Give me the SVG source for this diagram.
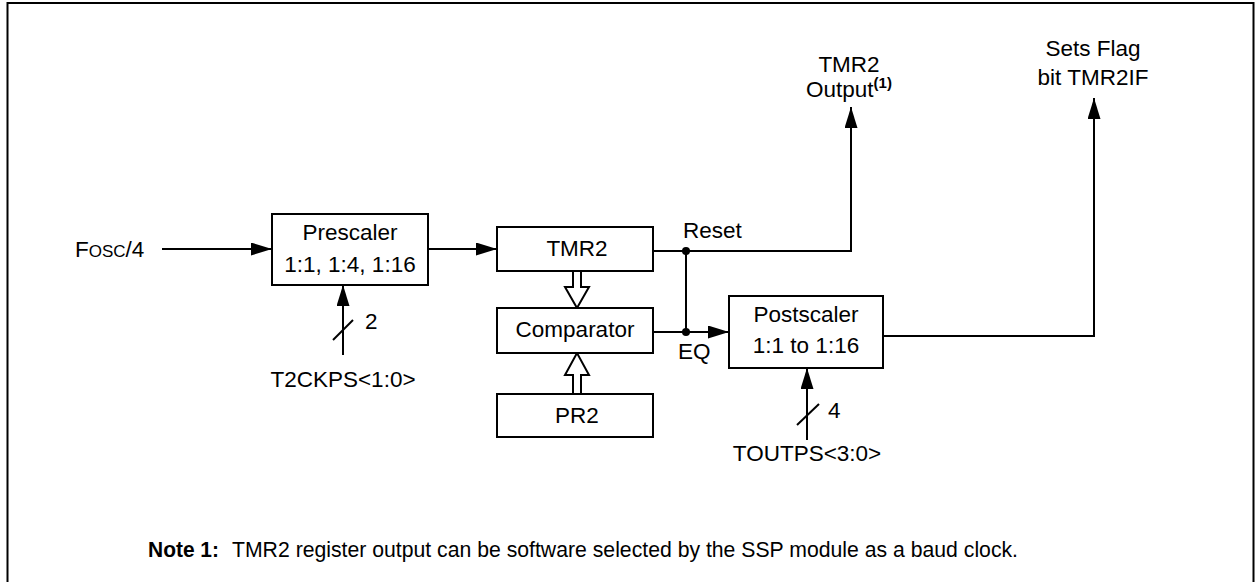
<svg xmlns="http://www.w3.org/2000/svg" width="1255" height="582" viewBox="0 0 1255 582">
<style>
  text { font-family: "Liberation Sans", Arial, sans-serif; font-size: 22.5px; fill: #000; }
  .c { text-anchor: middle; }
  .box { fill: #fff; stroke: #000; stroke-width: 2; }
  .ln { fill: none; stroke: #000; stroke-width: 2; }
  .hollow { fill: #fff; stroke: #000; stroke-width: 2; }
</style>
<defs>
  <marker id="ah" markerWidth="21" markerHeight="13" refX="21" refY="6.5" orient="auto" markerUnits="userSpaceOnUse">
    <path d="M0,0 L21,6.5 L0,13 Z" fill="#000"/>
  </marker>
</defs>
<rect x="7.5" y="3" width="1246" height="600" fill="none" stroke="#000" stroke-width="2"/>

<g id="connectors">
  <line class="ln" x1="162" y1="249" x2="272" y2="249" marker-end="url(#ah)"/>
  <line class="ln" x1="428" y1="249" x2="497" y2="249" marker-end="url(#ah)"/>
  <line class="ln" x1="343" y1="355" x2="343" y2="285" marker-end="url(#ah)"/>
  <line class="ln" x1="333" y1="340" x2="353" y2="320"/>
  <polyline class="ln" points="653,251 851,251 851,107" marker-end="url(#ah)"/>
  <line class="ln" x1="686" y1="251" x2="686" y2="332"/>
  <line class="ln" x1="653" y1="332" x2="729" y2="332" marker-end="url(#ah)"/>
  <circle cx="686" cy="251" r="4" fill="#000"/>
  <circle cx="686" cy="332" r="4" fill="#000"/>
  <polyline class="ln" points="883,336 1094,336 1094,98" marker-end="url(#ah)"/>
  <line class="ln" x1="807" y1="440" x2="807" y2="368" marker-end="url(#ah)"/>
  <line class="ln" x1="797" y1="425" x2="819" y2="404"/>
  <path class="hollow" d="M573,271 L581,271 L581,287 L589,287 L577,308 L565,287 L573,287 Z"/>
  <path class="hollow" d="M573,394 L581,394 L581,375 L589,375 L577,353 L565,375 L573,375 Z"/>
</g>

<g id="prescaler">
  <rect class="box" x="272" y="214" width="156" height="71"/>
  <text class="c" x="350" y="240">Prescaler</text>
  <text class="c" x="350" y="272">1:1, 1:4, 1:16</text>
</g>
<g id="tmr2">
  <rect class="box" x="497" y="227" width="156" height="44"/>
  <text class="c" x="577" y="256">TMR2</text>
</g>
<g id="comparator">
  <rect class="box" x="497" y="308" width="156" height="45"/>
  <text class="c" x="575" y="337">Comparator</text>
</g>
<g id="pr2">
  <rect class="box" x="497" y="394" width="156" height="43"/>
  <text class="c" x="577" y="423">PR2</text>
</g>
<g id="postscaler">
  <rect class="box" x="729" y="296" width="154" height="72"/>
  <text class="c" x="806" y="322">Postscaler</text>
  <text class="c" x="806" y="353">1:1 to 1:16</text>
</g>

<g id="labels">
  <text x="75" y="257">F<tspan font-size="17">OSC</tspan>/4</text>
  <text x="365" y="329">2</text>
  <text class="c" x="343" y="387">T2CKPS&lt;1:0&gt;</text>
  <text x="828" y="418">4</text>
  <text class="c" x="807" y="461">TOUTPS&lt;3:0&gt;</text>
  <text x="683" y="238">Reset</text>
  <text x="678" y="359">EQ</text>
  <text class="c" x="849" y="72">TMR2</text>
  <text x="806" y="97">Output<tspan font-size="15" font-weight="bold" dy="-9">(1)</tspan></text>
  <text class="c" x="1093" y="56">Sets Flag</text>
  <text class="c" x="1093" y="85">bit TMR2IF</text>
</g>

<g id="note">
  <text x="148" y="557" font-size="20" font-weight="bold" textLength="71" lengthAdjust="spacingAndGlyphs">Note 1:</text>
  <text x="232" y="557" font-size="20" textLength="786" lengthAdjust="spacingAndGlyphs">TMR2 register output can be software selected by the SSP module as a baud clock.</text>
</g>
</svg>
